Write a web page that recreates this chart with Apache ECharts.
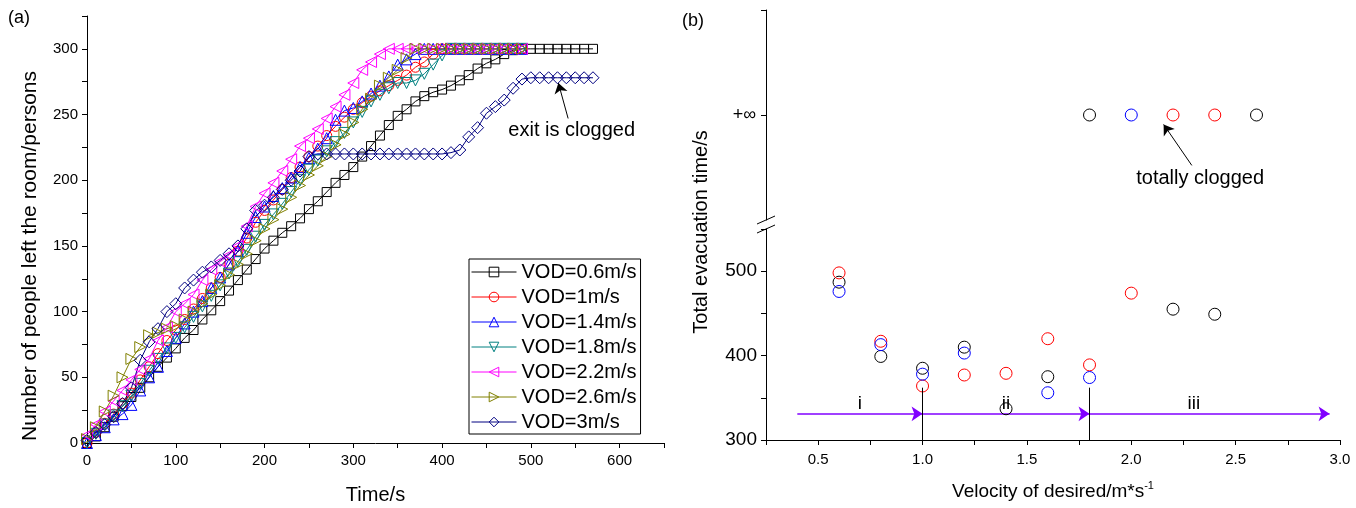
<!DOCTYPE html>
<html><head><meta charset="utf-8">
<script src="https://cdn.jsdelivr.net/npm/echarts@6/dist/echarts.min.js"></script>
<style>html,body{margin:0;padding:0;background:#fff}#c{width:1356px;height:508px}</style>
</head><body><div id="c"></div>
<script>
// ---------- Panel (a): people left the room vs time ----------
const timeShort = [0,10,20,30,40,50,60,70,80,90,100,110,120,130,140,150,160,170,180,190,200,210,220,230,240,250,260,270,280,290,300,310,320,330,340,350,360,370,380,390,400,410,420,430,440,450,460,470,480,490];
const timeLong = [0,10,20,30,40,50,60,70,80,90,100,110,120,130,140,150,160,170,180,190,200,210,220,230,240,250,260,270,280,290,300,310,320,330,340,350,360,370,380,390,400,410,420,430,440,450,460,470,480,490,500,510,520,530,540,550,560,570];
const vod06 = [0,5,12,20,28,35,42,50,58,65, 72,80,86,94,101,108,116,124,132,140, 148,154,160,165,171,178,184,191,198,204, 210,218,226,234,242,249,254,260,264,267, 269,272,276,280,285,289,292,296,299,300, 300,300,300,300,300,300,300,300];
const vod10 = [0,8,15,22,30,38,48,58,68,78, 86,94,102,110,118,126,136,146,156,168, 177,185,193,202,210,218,226,234,241,248, 254,259,264,268,272,276,280,286,290,296, 300,300,300,300,300,300,300,300,300,300];
const vod14 = [0,6,12,18,22,29,40,50,58,70, 80,91,100,108,118,126,136,146,160,172, 180,188,194,202,210,217,224,232,246,253, 255,260,266,272,279,288,292,296,300,300, 300,300,300,300,300,300,300,300,300,300];
const vod18 = [0,7,14,21,28,36,45,55,64,72, 80,88,96,104,112,120,129,138,147,157, 166,174,182,191,200,208,215,222,229,236, 244,252,260,265,270,274,274,276,281,288, 295,300,300,300,300,300,300,300,300,300];
const vod22 = [6,14,24,32,40,48,56,64,78,88, 100,106,113,124,132,138,143,150,165,180, 190,198,207,216,226,232,239,247,256,265, 274,284,290,296,300,300,300,300,300,300, 300,300,300,300,300,300,300,300,300,300];
const vod26 = [3,12,24,36,50,64,73,82,84,87, 89,94,100,106,113,120,128,136,144,154, 163,170,178,187,196,204,211,218,227,235, 244,254,262,272,278,284,293,300,300,300, 300,300,300,300,300,300,300,300,300,300];
const vod30 = [2,8,14,20,30,42,63,77,87,100, 106,118,124,130,134,139,144,150,163,177, 181,187,193,200,207,218,220,220,220,220, 220,220,220,220,220,220,220,220,220,220, 220,221,223,233,240,251,256,261,270,277, 278,278,278,278,278,278,278,278];
const legendNames = ['VOD=0.6m/s','VOD=1m/s','VOD=1.4m/s','VOD=1.8m/s','VOD=2.2m/s','VOD=2.6m/s','VOD=3m/s'];
const xTicksA = [0,100,200,300,400,500,600];
const yTicksA = [0,50,100,150,200,250,300];

// ---------- Panel (b): total evacuation time vs desired velocity ----------
const blackX = [0.6,0.8,1.0,1.2,1.4,1.6,2.2,2.4];
const blackY = [487,399,385,410,337,375,455,449];
const redX = [0.6,0.8,1.0,1.2,1.4,1.6,1.8,2.0];
const redY = [498,417,364,377,379,420,389,474];
const blueX = [0.6,0.8,1.0,1.2,1.6,1.8];
const blueY = [476,413,378,403,356,374];
const blackInfX = [1.8,2.6];
const blueInfX = [2.0];
const redInfX = [2.2,2.4];
const INF_LEVEL = 1;              // position of "+∞" on the upper (broken) axis
const regionStops = [0.4,1.0,1.8,2.95];
const regionArrowY = 331;
const regionBoundX = [1.0,1.8];
const regionBoundTop = 362;
const regionLabels = ['i','ii','iii'];
const regionLabelX = [0.7,1.4,2.3];
const regionLabelY = 343;

const FONT = 'Liberation Sans, Arial, Helvetica, sans-serif';
const chart = echarts.init(document.getElementById('c'), null, {renderer:'canvas'});

const SQ = 'rect';
const UP = 'triangle';
const DOWN = 'path://M0,0L10,0L5,10Z';
const LEFT = 'path://M10,0L10,10L0,5Z';
const RIGHT = 'path://M0,0L10,5L0,10Z';

function lineSeries(name, times, vals, color, symbol, size) {
  return {
    name, type:'line', xAxisIndex:0, yAxisIndex:0,
    data: times.map((t,i)=>[t, vals[i]]),
    symbol, symbolSize:size, showAllSymbol:true, showSymbol:true,
    lineStyle:{color, width:1},
    itemStyle:{color:'rgba(255,255,255,0)', borderColor:color, borderWidth:1, opacity:1},
    emphasis:{disabled:true}, silent:true
  };
}
function hollow(color){ return {color:'rgba(255,255,255,0)', borderColor:color, borderWidth:1, opacity:1}; }
function textLabel(text, size){ return {show:true, position:'inside', formatter:text, fontSize:size, color:'#000', fontFamily:FONT, opacity:1, textBorderWidth:0}; }
const axisBase = {
  axisLine:{show:true, onZero:false, lineStyle:{color:'#000', width:1}},
  axisTick:{show:true, inside:false, length:5, lineStyle:{color:'#000', width:1}},
  splitLine:{show:false},
  axisLabel:{color:'#000', fontFamily:FONT}
};

const option = {
  animation:false,
  backgroundColor:'#fff',
  textStyle:{fontFamily:FONT},
  grid:[
    {left:87, top:16, width:577, height:427, outerBoundsMode:'none', containLabel:false},
    {left:766, top:229, width:574, height:211, outerBoundsMode:'none', containLabel:false},
    {left:766, top:10, width:574, height:210, outerBoundsMode:'none', containLabel:false}
  ],
  xAxis:[
    Object.assign({}, axisBase, {gridIndex:0, type:'value', min:0, max:650, interval:50,
      name:'Time/s', nameLocation:'middle', nameGap:42, nameTextStyle:{fontSize:20, color:'#000', fontFamily:FONT},
      axisLabel:{color:'#000', fontFamily:FONT, fontSize:15, margin:10,
        formatter:v=> xTicksA.indexOf(v)>=0 ? String(v) : ''}}),
    Object.assign({}, axisBase, {gridIndex:1, type:'value', min:0.25, max:3.0, interval:0.25,
      name:'{a|Velocity of desired/m*s}{b|-1}', nameLocation:'middle', nameGap:40,
      nameTextStyle:{color:'#000', fontFamily:FONT, rich:{a:{fontSize:19, color:'#000', fontFamily:FONT}, b:{fontSize:11, color:'#000', fontFamily:FONT, verticalAlign:'top', padding:[0,0,12,0]}}},
      axisLabel:{color:'#000', fontFamily:FONT, fontSize:15, margin:12,
        formatter:v=> Math.abs(v*2-Math.round(v*2))<1e-6 ? v.toFixed(1) : ''}}),
    {gridIndex:2, type:'value', min:0.25, max:3.0, show:false}
  ],
  yAxis:[
    Object.assign({}, axisBase, {gridIndex:0, type:'value', min:0, max:325, interval:25,
      axisLabel:{color:'#000', fontFamily:FONT, fontSize:15, margin:9,
        formatter:v=> yTicksA.indexOf(v)>=0 ? String(v) : ''}}),
    Object.assign({}, axisBase, {gridIndex:1, type:'value', min:300, max:550, interval:50,
      axisLabel:{color:'#000', fontFamily:FONT, fontSize:19, margin:9,
        formatter:v=> v%100===0 ? String(v) : ''}}),
    Object.assign({}, axisBase, {gridIndex:2, type:'value', min:0, max:2, interval:1,
      axisTick:{show:true, length:5, lineStyle:{color:'#000'}, customValues:[INF_LEVEL,2]},
      axisLabel:{color:'#000', fontFamily:FONT, fontSize:18, margin:10, customValues:[INF_LEVEL],
        formatter:v=> v===INF_LEVEL ? '+∞' : ''}})
  ],
  legend:{
    data:legendNames, orient:'vertical', left:469, top:259,
    padding:[3,4,2,2], itemGap:5, itemWidth:45, itemHeight:12,
    borderColor:'#000', borderWidth:1, backgroundColor:'#fff',
    lineStyle:{width:1},
    itemStyle:{borderWidth:1},
    textStyle:{fontSize:20, color:'#000', fontFamily:FONT},
    selectedMode:false
  },
  graphic:[
    {type:'text', left:8, top:9, style:{text:'(a)', fontSize:18, fontFamily:FONT, fill:'#000'}},
    {type:'text', left:682, top:12, style:{text:'(b)', fontSize:18, fontFamily:FONT, fill:'#000'}},
    {type:'text', x:30, y:256, rotation:Math.PI/2, style:{text:'Number of people left the room/persons', fontSize:21, fontFamily:FONT, fill:'#000', align:'center', verticalAlign:'middle'}},
    {type:'text', x:701, y:232, rotation:Math.PI/2, style:{text:'Total evacuation time/s', fontSize:20, fontFamily:FONT, fill:'#000', align:'center', verticalAlign:'middle'}},
    {type:'rect', shape:{x:760, y:221, width:12, height:7}, style:{fill:'#fff'}, z:100},
    {type:'line', shape:{x1:757, y1:224, x2:775, y2:216}, style:{stroke:'#000', lineWidth:1}, z:101},
    {type:'line', shape:{x1:757, y1:233, x2:775, y2:225}, style:{stroke:'#000', lineWidth:1}, z:101}
  ],
  series:[
    lineSeries(legendNames[0], timeLong, vod06, '#000000', SQ, 9),
    lineSeries(legendNames[1], timeShort, vod10, '#ff0000', 'circle', 10),
    lineSeries(legendNames[2], timeShort, vod14, '#0000ff', UP, 11),
    lineSeries(legendNames[3], timeShort, vod18, '#008080', DOWN, 11),
    lineSeries(legendNames[4], timeShort, vod22, '#ff00ff', LEFT, 11),
    lineSeries(legendNames[5], timeShort, vod26, '#808000', RIGHT, 11),
    lineSeries(legendNames[6], timeLong, vod30, '#000080', 'diamond', 12),
    // annotation in panel (a)
    {type:'scatter', xAxisIndex:0, yAxisIndex:0, silent:true, symbolSize:1,
      itemStyle:{color:'rgba(0,0,0,0)', opacity:1},
      data:[{value:[546,238], label:textLabel('exit is clogged', 20)}],
      markLine:{silent:true, symbol:['none','arrow'], symbolSize:10, label:{show:false},
        lineStyle:{color:'#000', width:1, type:'solid', opacity:1},
        data:[[{coord:[542,247]},{coord:[531,274]}]]}},
    // panel (b) finite values
    {type:'scatter', xAxisIndex:1, yAxisIndex:1, silent:true, symbol:'circle', symbolSize:12,
      itemStyle:hollow('#000'), data:blackX.map((x,i)=>[x, blackY[i]]),
      markLine:{silent:true, symbol:['none','arrow'], symbolSize:11, label:{show:false}, z:1,
        lineStyle:{color:'#8000ff', width:1.5, type:'solid', opacity:1},
        data:regionStops.slice(0,-1).map((x,i)=>[{coord:[x, regionArrowY]},{coord:[regionStops[i+1], regionArrowY]}])}},
    {type:'scatter', xAxisIndex:1, yAxisIndex:1, silent:true, symbol:'circle', symbolSize:12,
      itemStyle:hollow('#ff0000'), data:redX.map((x,i)=>[x, redY[i]]),
      markLine:{silent:true, symbol:['none','none'], label:{show:false},
        lineStyle:{color:'#000', width:1, type:'solid', opacity:1},
        data:regionBoundX.map(x=>[{coord:[x,300]},{coord:[x,regionBoundTop]}])}},
    {type:'scatter', xAxisIndex:1, yAxisIndex:1, silent:true, symbol:'circle', symbolSize:12,
      itemStyle:hollow('#0000ff'), data:blueX.map((x,i)=>[x, blueY[i]])},
    {type:'scatter', xAxisIndex:1, yAxisIndex:1, silent:true, symbolSize:1, itemStyle:{color:'rgba(0,0,0,0)', opacity:1},
      data:regionLabelX.map((x,i)=>({value:[x, regionLabelY], label:textLabel(regionLabels[i], 19)}))},
    // panel (b) "+∞" values
    {type:'scatter', xAxisIndex:2, yAxisIndex:2, silent:true, symbol:'circle', symbolSize:12,
      itemStyle:hollow('#000'), data:blackInfX.map(x=>[x, INF_LEVEL])},
    {type:'scatter', xAxisIndex:2, yAxisIndex:2, silent:true, symbol:'circle', symbolSize:12,
      itemStyle:hollow('#0000ff'), data:blueInfX.map(x=>[x, INF_LEVEL])},
    {type:'scatter', xAxisIndex:2, yAxisIndex:2, silent:true, symbol:'circle', symbolSize:12,
      itemStyle:hollow('#ff0000'), data:redInfX.map(x=>[x, INF_LEVEL])},
    {type:'scatter', xAxisIndex:2, yAxisIndex:2, silent:true, symbolSize:1, itemStyle:{color:'rgba(0,0,0,0)', opacity:1},
      data:[{value:[2.33,0.4], label:textLabel('totally clogged', 20)}],
      markLine:{silent:true, symbol:['none','arrow'], symbolSize:10, label:{show:false},
        lineStyle:{color:'#000', width:1, type:'solid', opacity:1},
        data:[[{coord:[2.29,0.52]},{coord:[2.155,0.91]}]]}}
  ]
};
chart.setOption(option);
</script></body></html>
